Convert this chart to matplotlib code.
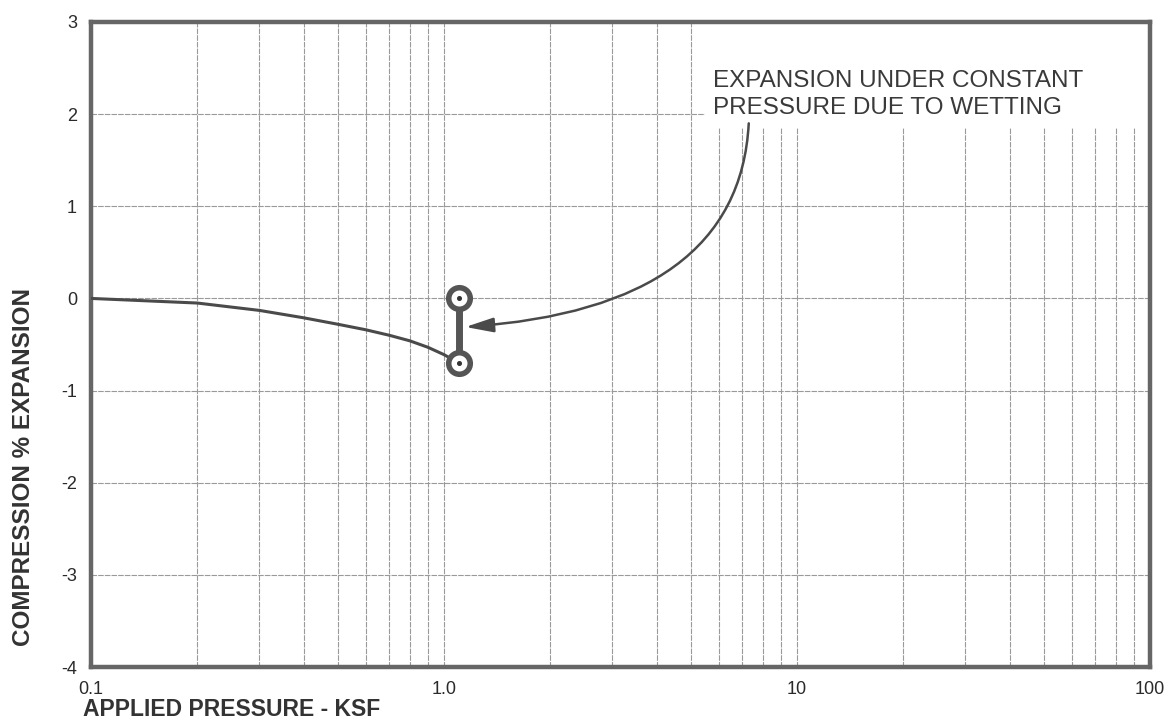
import matplotlib.pyplot as plt
from matplotlib.patches import Rectangle
from matplotlib.ticker import FixedLocator, NullFormatter

# consolidation curve (pressure ksf, strain %)
pressure = [0.1, 0.2, 0.3, 0.4, 0.5, 0.6, 0.7, 0.8, 0.9, 1.0, 1.1]
strain = [0.0, -0.05, -0.13, -0.21, -0.28, -0.34, -0.40, -0.46, -0.53, -0.61, -0.70]

# wetting step at constant pressure
wet_pressure = [1.1, 1.1]
wet_strain = [-0.70, 0.0]

# arrow: from note down to wetting step
arrow_from = (7.3, 1.9)
arrow_to = (1.15, -0.31)

x_ticks = [0.1, 1.0, 10, 100]
x_labels = ["0.1", "1.0", "10", "100"]
y_ticks = [3, 2, 1, 0, -1, -2, -3, -4]
note = "EXPANSION UNDER CONSTANT\nPRESSURE DUE TO WETTING"

ink = "#4a4a4a"
plt.rcParams["font.family"] = ["Liberation Sans", "DejaVu Sans"]

fig = plt.figure(figsize=(11.68, 7.19), dpi=100)
ax = fig.add_axes([91 / 1168, 1 - 667 / 719, 1059 / 1168, 645 / 719])

ax.set_xscale("log")
ax.set_xlim(0.1, 100)
ax.set_ylim(-4, 3)

ax.xaxis.set_major_locator(FixedLocator(x_ticks))
ax.set_xticklabels(x_labels)
minor = [m * d for d in (0.1, 1, 10) for m in range(2, 10)]
ax.xaxis.set_minor_locator(FixedLocator(minor))
ax.xaxis.set_minor_formatter(NullFormatter())
ax.set_yticks(y_ticks)
ax.set_yticklabels([str(v) for v in y_ticks])

ax.tick_params(which="both", length=0, labelsize=13, colors="#2a2a2a")
ax.tick_params(axis="x", pad=10)
ax.tick_params(axis="y", pad=10)

grid_kw = dict(color="#9a9a9a", lw=0.8, linestyle=(0, (5, 1)))
ax.grid(True, which="major", **grid_kw)
ax.grid(True, which="minor", axis="x", **grid_kw)
ax.set_axisbelow(True)

for sp in ax.spines.values():
    sp.set_linewidth(3.2)
    sp.set_color("#666666")

# blank area behind the note (grid lines stop under the text)
ax.add_patch(Rectangle((0.58, 0.835), 0.42, 0.165, transform=ax.transAxes,
                       facecolor="white", edgecolor="none", zorder=1.5))

# curve
ax.plot(pressure, strain, color=ink, lw=2.2, zorder=3, solid_capstyle="round")
# wetting step bar and circles
ax.plot(wet_pressure, wet_strain, color="#555555", lw=5, zorder=4)
ax.plot(wet_pressure, wet_strain, linestyle="none", marker="o", ms=15.5,
        mfc="white", mec="#555555", mew=4, zorder=5)
ax.plot(wet_pressure, wet_strain, linestyle="none", marker="o", ms=2.6,
        color="#333333", zorder=6)

ax.annotate("", xy=arrow_to, xytext=arrow_from, xycoords="data",
            arrowprops=dict(arrowstyle="-|>,head_length=0.85,head_width=0.22",
                            mutation_scale=20, color=ink, lw=1.8,
                            shrinkA=0, shrinkB=0,
                            connectionstyle="angle3,angleA=87,angleB=4"),
            zorder=4)

fig.text(713 / 1168, 1 - 70 / 719, note, fontsize=17.5, color="#3a3a3a",
         va="top", ha="left", linespacing=1.28)

fig.text(83 / 1168, 3 / 719, "APPLIED PRESSURE - KSF", fontsize=16.5,
         fontweight="bold", color="#333333", ha="left", va="baseline")
fig.text(24 / 1168, 1 - 467 / 719, "COMPRESSION % EXPANSION", fontsize=17.5,
         fontweight="bold", color="#333333", rotation=90,
         ha="center", va="center")

fig.savefig("out.png", dpi=100)
